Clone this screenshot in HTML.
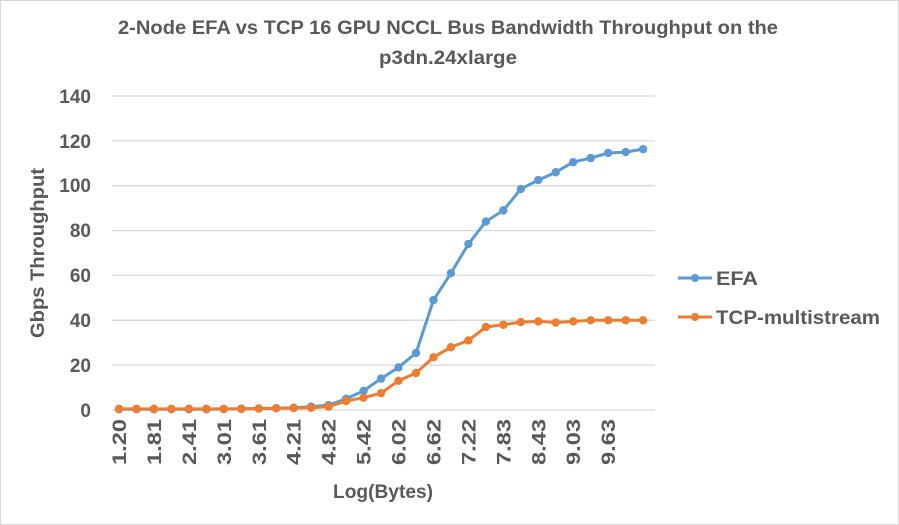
<!DOCTYPE html>
<html><head><meta charset="utf-8"><style>
body{margin:0;background:#fff}
svg{display:block;font-family:"Liberation Sans",sans-serif}
</style></head><body>
<svg width="899" height="525" viewBox="0 0 899 525">
<rect x="0.5" y="0.5" width="898" height="524" fill="#fff" stroke="#d9d9d9"/>
<text x="448" y="34" text-anchor="middle" font-size="19" font-weight="bold" fill="#595959" textLength="660" lengthAdjust="spacingAndGlyphs">2-Node EFA vs TCP 16 GPU NCCL Bus Bandwidth Throughput on the</text>
<text x="448" y="64" text-anchor="middle" font-size="19" font-weight="bold" fill="#595959" textLength="138" lengthAdjust="spacingAndGlyphs">p3dn.24xlarge</text>
<g stroke="#d9d9d9" stroke-width="1.3">
<line x1="112" x2="655" y1="410" y2="410"/>
<line x1="112" x2="655" y1="365.1" y2="365.1"/>
<line x1="112" x2="655" y1="320.3" y2="320.3"/>
<line x1="112" x2="655" y1="275.4" y2="275.4"/>
<line x1="112" x2="655" y1="230.6" y2="230.6"/>
<line x1="112" x2="655" y1="185.7" y2="185.7"/>
<line x1="112" x2="655" y1="140.9" y2="140.9"/>
<line x1="112" x2="655" y1="96" y2="96"/>
</g>
<g font-size="19" font-weight="bold" fill="#595959" text-anchor="end">
<text x="91" y="417">0</text><text x="91" y="372">20</text><text x="91" y="327">40</text><text x="91" y="282">60</text><text x="91" y="237">80</text><text x="91" y="192">100</text><text x="91" y="148">120</text><text x="91" y="103">140</text>
</g>
<text transform="translate(44,253) rotate(-90)" text-anchor="middle" font-size="19" font-weight="bold" fill="#595959" textLength="170" lengthAdjust="spacingAndGlyphs">Gbps Throughput</text>
<text x="383" y="498" text-anchor="middle" font-size="19" font-weight="bold" fill="#595959" textLength="100" lengthAdjust="spacingAndGlyphs">Log(Bytes)</text>
<g id="xl" font-size="19" font-weight="bold" fill="#595959" text-anchor="end"></g>
<polyline id="efa" fill="none" stroke="#5b9bd5" stroke-width="3" stroke-linejoin="round"/>
<polyline id="tcp" fill="none" stroke="#ed7d31" stroke-width="3" stroke-linejoin="round"/>
<g id="m"></g>
<line x1="678" x2="712" y1="278" y2="278" stroke="#5b9bd5" stroke-width="3"/><circle cx="695" cy="278" r="4" fill="#5b9bd5"/>
<text x="716" y="285" font-size="19" font-weight="bold" fill="#595959" textLength="42" lengthAdjust="spacingAndGlyphs">EFA</text>
<line x1="678" x2="712" y1="317" y2="317" stroke="#ed7d31" stroke-width="3"/><circle cx="695" cy="317" r="4" fill="#ed7d31"/>
<text x="716" y="324" font-size="19" font-weight="bold" fill="#595959" textLength="164" lengthAdjust="spacingAndGlyphs">TCP-multistream</text>
</svg>
<script>
var ns="http://www.w3.org/2000/svg";
var efa=[0.3,0.3,0.3,0.3,0.3,0.3,0.4,0.6,0.7,0.8,1,1.5,2.2,5,8.5,14,19,25.4,49,61,74,84,89,98.5,102.5,106,110.5,112.3,114.6,115,116.3];
var tcp=[0.5,0.5,0.5,0.5,0.5,0.5,0.5,0.5,0.6,0.8,0.9,1,1.5,4,5.5,7.5,13,16.5,23.5,28,31,37,38,39.2,39.5,39,39.5,40,40,40,40];
function X(k){return 119+k*17.47}function Y(v){return 410-v*2.243}
function pts(a){return a.map(function(v,k){return X(k).toFixed(1)+","+Y(v).toFixed(1)}).join(" ")}
document.getElementById("efa").setAttribute("points",pts(efa));
document.getElementById("tcp").setAttribute("points",pts(tcp));
var m=document.getElementById("m");
[[efa,"#5b9bd5"],[tcp,"#ed7d31"]].forEach(function(s){s[0].forEach(function(v,k){var c=document.createElementNS(ns,"circle");c.setAttribute("cx",X(k));c.setAttribute("cy",Y(v));c.setAttribute("r",4.2);c.setAttribute("fill",s[1]);m.appendChild(c);});});
var xl=document.getElementById("xl");
for(var k=0;k<=28;k+=2){var t=document.createElementNS(ns,"text");var x=X(k)+7;t.setAttribute("transform","translate("+x+",419) rotate(-90)");t.setAttribute("textLength","46");t.setAttribute("lengthAdjust","spacingAndGlyphs");t.textContent=(1.2041+k*0.30103).toFixed(2);xl.appendChild(t);}
</script>
</body></html>
